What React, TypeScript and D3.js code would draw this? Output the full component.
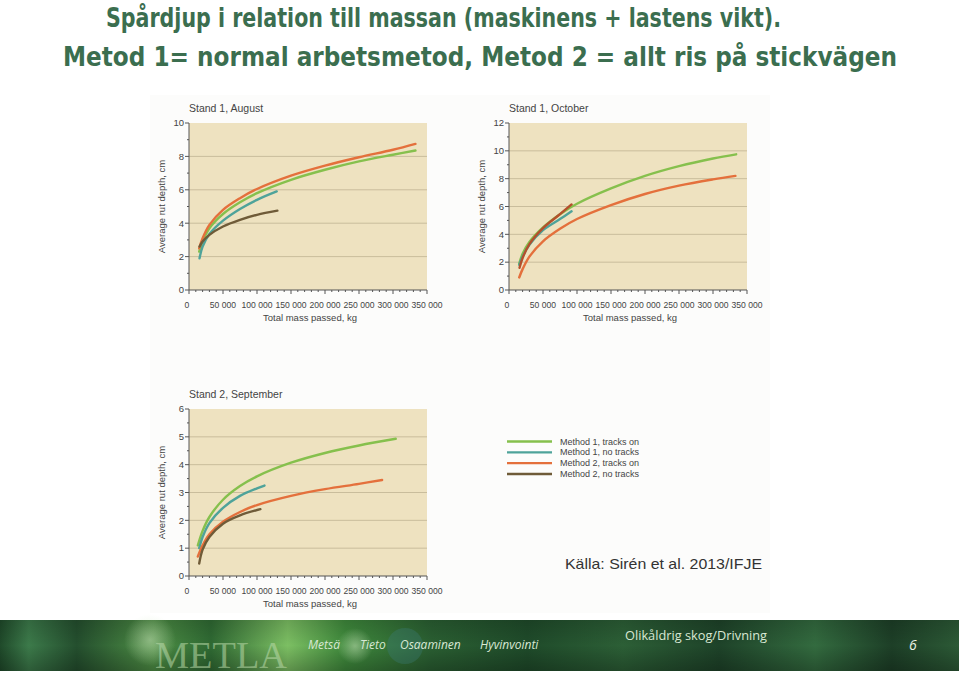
import React from "react";
import * as d3 from "d3";

// ---------- DATA ----------
const seriesNames = ["Method 1, tracks on", "Method 1, no tracks", "Method 2, tracks on", "Method 2, no tracks"];
const seriesColors = ["#86c04d", "#4ea39a", "#e4703c", "#6f5b38"];

const massTicks = [0, 50000, 100000, 150000, 200000, 250000, 300000, 350000];

// Stand 1, August  [mass kg, rut depth cm]
const aug_m1On = [[15000, 2.3], [20000, 2.9], [30000, 3.7], [50000, 4.55], [75000, 5.25], [100000, 5.8], [150000, 6.6], [200000, 7.2], [250000, 7.7], [300000, 8.1], [333000, 8.35]];
const aug_m1No = [[15500, 1.9], [20000, 2.6], [30000, 3.35], [50000, 4.15], [75000, 4.85], [100000, 5.4], [129000, 5.9]];
const aug_m2On = [[15000, 2.5], [20000, 3.1], [30000, 3.9], [50000, 4.8], [75000, 5.5], [100000, 6.05], [150000, 6.85], [200000, 7.45], [250000, 7.95], [300000, 8.4], [333000, 8.75]];
const aug_m2No = [[15500, 2.6], [20000, 2.9], [30000, 3.3], [50000, 3.8], [75000, 4.2], [100000, 4.5], [130000, 4.75]];

// Stand 1, October
const oct_m1On = [[15000, 1.9], [20000, 2.6], [30000, 3.45], [50000, 4.5], [75000, 5.45], [100000, 6.2], [150000, 7.3], [200000, 8.2], [250000, 8.9], [300000, 9.45], [334000, 9.75]];
const oct_m1No = [[15000, 1.8], [20000, 2.4], [30000, 3.25], [50000, 4.3], [75000, 5.1], [92000, 5.65]];
const oct_m2On = [[15000, 0.9], [20000, 1.5], [30000, 2.4], [50000, 3.5], [75000, 4.4], [100000, 5.1], [150000, 6.1], [200000, 6.9], [250000, 7.5], [300000, 7.95], [333000, 8.2]];
const oct_m2No = [[15500, 1.6], [20000, 2.3], [30000, 3.3], [50000, 4.45], [75000, 5.45], [92000, 6.15]];

// Stand 2, September
const sep_m1On = [[13000, 1.1], [20000, 1.62], [30000, 2.12], [50000, 2.74], [75000, 3.23], [100000, 3.58], [150000, 4.07], [200000, 4.42], [250000, 4.69], [304000, 4.93]];
const sep_m1No = [[15000, 1.0], [20000, 1.4], [30000, 1.9], [50000, 2.45], [75000, 2.88], [100000, 3.15], [111000, 3.25]];
const sep_m2On = [[13000, 0.7], [20000, 1.1], [30000, 1.5], [50000, 1.95], [75000, 2.3], [100000, 2.55], [150000, 2.88], [200000, 3.12], [250000, 3.31], [284000, 3.45]];
const sep_m2No = [[15000, 0.45], [20000, 0.95], [30000, 1.4], [50000, 1.88], [75000, 2.18], [105000, 2.4]];

const panelTitles = ["Stand 1, August", "Stand 1, October", "Stand 2, September"];
const panelYMax = [10, 12, 6];
const panelYStep = [2, 2, 1];
const panelSeries = [
  [aug_m1On, aug_m1No, aug_m2On, aug_m2No],
  [oct_m1On, oct_m1No, oct_m2On, oct_m2No],
  [sep_m1On, sep_m1No, sep_m2On, sep_m2No],
];

const titleLine1 = "Spårdjup i relation till massan (maskinens + lastens vikt).";
const titleLine2 = "Metod 1= normal arbetsmetod, Metod 2 = allt ris på stickvägen";
const sourceText = "Källa: Sirén et al. 2013/IFJE";
const footerWords = ["Metsä", "Tieto", "Osaaminen", "Hyvinvointi"];
const footerTopic = "Olikåldrig skog/Drivning";
const pageNumber = "6";

// ---------- LAYOUT ----------
const panelBoxes = [
  { left: 189, right: 427, top: 123, bottom: 290 },
  { left: 509, right: 747, top: 123, bottom: 290 },
  { left: 189, right: 427, top: 409, bottom: 576 },
];
const labelFont = "Liberation Sans, Arial, sans-serif";
const fmtMass = (v: number) => d3.format(",")(v).replace(/,/g, " ");

function Panel({ idx }: { idx: number }) {
  const b = panelBoxes[idx];
  const yMax = panelYMax[idx];
  const step = panelYStep[idx];
  const x = d3.scaleLinear().domain([0, 350000]).range([b.left, b.right]);
  const y = d3.scaleLinear().domain([0, yMax]).range([b.bottom, b.top]);
  const yMajor = d3.range(0, yMax + 0.001, step);
  const yMinor = d3.range(step / 2, yMax, step);
  const xMinor = d3.range(10000, 350001, 10000).filter((v) => v % 50000 !== 0);
  const line = d3
    .line<number[]>()
    .x((d) => x(d[0]))
    .y((d) => y(d[1]))
    .curve(d3.curveCatmullRom.alpha(0.5));
  const colors = seriesColors.slice();
  if (idx === 1) colors[3] = "#b4502c";
  return (
    <g>
      <text x={b.left} y={b.top - 11} fontFamily={labelFont} fontSize={10.5} fill="#444">
        {panelTitles[idx]}
      </text>
      <rect x={b.left} y={b.top} width={b.right - b.left} height={b.bottom - b.top} fill="#eee2c0" />
      {yMajor
        .filter((v) => v > 0 && v < yMax)
        .map((v) => (
          <line key={"g" + v} x1={b.left} x2={b.right} y1={y(v)} y2={y(v)} stroke="#c9bd9c" strokeWidth={1} />
        ))}
      {panelSeries[idx].map((s, i) => (
        <path key={"s" + i} d={line(s as number[][]) || ""} fill="none" stroke={colors[i]} strokeWidth={2.4} strokeLinecap="round" />
      ))}
      {/* axes */}
      <line x1={b.left} x2={b.left} y1={b.top} y2={b.bottom} stroke="#555" strokeWidth={1} />
      <line x1={b.left} x2={b.right} y1={b.bottom} y2={b.bottom} stroke="#555" strokeWidth={1} />
      {yMajor.map((v) => (
        <g key={"ym" + v}>
          <line x1={b.left - 4} x2={b.left} y1={y(v)} y2={y(v)} stroke="#555" />
          <text x={b.left - 5} y={y(v)} dy="0.35em" textAnchor="end" fontFamily={labelFont} fontSize={9.5} fill="#444">
            {v}
          </text>
        </g>
      ))}
      {yMinor.map((v) => (
        <line key={"yn" + v} x1={b.left - 2} x2={b.left} y1={y(v)} y2={y(v)} stroke="#555" />
      ))}
      {massTicks.map((v) => (
        <g key={"xm" + v}>
          <line x1={x(v)} x2={x(v)} y1={b.bottom} y2={b.bottom + 4} stroke="#555" />
          <text x={v === 0 ? x(v) - 2 : x(v)} y={b.bottom + 18} textAnchor="middle" fontFamily={labelFont} fontSize={8.6} fill="#444">
            {fmtMass(v)}
          </text>
        </g>
      ))}
      {xMinor.map((v) => (
        <line key={"xn" + v} x1={x(v)} x2={x(v)} y1={b.bottom} y2={b.bottom + 2} stroke="#555" />
      ))}
      <text x={(b.left + b.right) / 2 + 2} y={b.bottom + 31} textAnchor="middle" fontFamily={labelFont} fontSize={9.5} fill="#444">
        Total mass passed, kg
      </text>
      <text
        transform={`translate(${b.left - 27},${(b.top + b.bottom) / 2}) rotate(-90)`}
        textAnchor="middle"
        dy="0.35em"
        fontFamily={labelFont}
        fontSize={9.5}
        fill="#444"
      >
        Average rut depth, cm
      </text>
    </g>
  );
}

export default function App() {
  const legendY = d3.scalePoint<string>().domain(seriesNames).range([441.5, 474]);
  const footerX = [308, 360, 400, 480];
  return (
    <svg width={959} height={676} style={{ position: "absolute", left: 0, top: 0, background: "#fff" }}>
      <defs>
        <linearGradient id="band" x1="0" x2="1" y1="0" y2="0">
          <stop offset="0" stopColor="#1f4a2a" />
          <stop offset="0.03" stopColor="#3c7a4a" />
          <stop offset="0.08" stopColor="#244f2e" />
          <stop offset="0.16" stopColor="#4e8f45" />
          <stop offset="0.22" stopColor="#2f6a33" />
          <stop offset="0.3" stopColor="#7cbf63" />
          <stop offset="0.36" stopColor="#3f8a3c" />
          <stop offset="0.45" stopColor="#2a5f32" />
          <stop offset="0.55" stopColor="#1f4b2a" />
          <stop offset="0.65" stopColor="#2c5f36" />
          <stop offset="0.75" stopColor="#1e4329" />
          <stop offset="0.85" stopColor="#336b3f" />
          <stop offset="0.93" stopColor="#1d3f27" />
          <stop offset="1" stopColor="#2c5a36" />
        </linearGradient>
        <linearGradient id="bandV" x1="0" x2="0" y1="0" y2="1">
          <stop offset="0" stopColor="#000" stopOpacity="0.15" />
          <stop offset="0.5" stopColor="#000" stopOpacity="0" />
          <stop offset="1" stopColor="#000" stopOpacity="0.25" />
        </linearGradient>
        <radialGradient id="glow">
          <stop offset="0" stopColor="#cfe8c0" stopOpacity="0.5" />
          <stop offset="1" stopColor="#cfe8c0" stopOpacity="0" />
        </radialGradient>
      </defs>

      {/* slide title */}
      <text x={106} y={27} fontFamily="'Liberation Sans Narrow', 'DejaVu Sans Condensed', sans-serif" fontWeight="bold" fontSize={26} fill="#3b6e4f" textLength={675} lengthAdjust="spacingAndGlyphs">
        {titleLine1}
      </text>
      <text x={63} y={66} fontFamily="'Liberation Sans Narrow', 'DejaVu Sans Condensed', sans-serif" fontWeight="bold" fontSize={26} fill="#3b6e4f" textLength={834} lengthAdjust="spacingAndGlyphs">
        {titleLine2}
      </text>

      {/* figure background */}
      <rect x={150} y={95} width={620} height={518} fill="#fcfcfb" />

      {[0, 1, 2].map((i) => (
        <Panel key={i} idx={i} />
      ))}

      {/* legend */}
      {seriesNames.map((n, i) => (
        <g key={n}>
          <line x1={507} x2={552} y1={legendY(n)} y2={legendY(n)} stroke={seriesColors[i]} strokeWidth={2.4} />
          <text x={560} y={legendY(n)} dy="0.35em" fontFamily={labelFont} fontSize={9} fill="#444">
            {n}
          </text>
        </g>
      ))}

      <text x={565} y={569} fontFamily={labelFont} fontSize={15} fill="#333" textLength={197} lengthAdjust="spacingAndGlyphs">
        {sourceText}
      </text>

      {/* footer band */}
      <rect x={0} y={620} width={959} height={51} fill="url(#band)" />
      <rect x={0} y={620} width={959} height={51} fill="url(#bandV)" />
      <circle cx={150} cy={640} r={26} fill="url(#glow)" />
      <circle cx={355} cy={646} r={18} fill="url(#glow)" />
      <circle cx={405} cy={646} r={18} fill="#3d7b78" opacity={0.35} />
      <text x={155} y={668} fontFamily="'Liberation Serif', serif" fontSize={38} fill="#b9d9a8" opacity={0.55} textLength={132} lengthAdjust="spacingAndGlyphs">
        METLA
      </text>
      {footerWords.map((w, i) => (
        <text key={w} x={footerX[i]} y={649} fontFamily="'Open Sans', sans-serif" fontStyle="italic" fontSize={12} fill="#d8e8d4">
          {w}
        </text>
      ))}
      <text x={625} y={640} fontFamily="'Open Sans', sans-serif" fontSize={12.5} fill="#d8e8d4" textLength={142} lengthAdjust="spacingAndGlyphs">
        {footerTopic}
      </text>
      <text x={909} y={650} fontFamily="'Open Sans', sans-serif" fontStyle="italic" fontSize={14} fill="#e8f2e4">
        {pageNumber}
      </text>
    </svg>
  );
}
